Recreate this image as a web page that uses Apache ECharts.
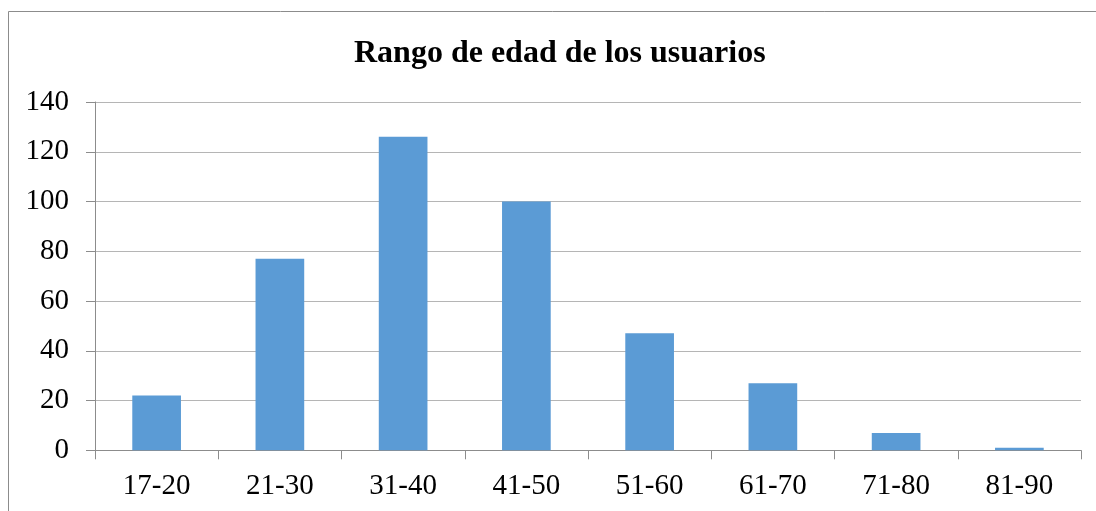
<!DOCTYPE html>
<html>
<head>
<meta charset="utf-8">
<script src="https://cdn.jsdelivr.net/npm/echarts@6/dist/echarts.min.js"></script>
<style>
html,body{margin:0;padding:0;background:#fff;}
#chart{width:1096px;height:511px;}
</style>
</head>
<body>
<div id="chart"></div>
<script>
var titleText = 'Rango de edad de los usuarios';
var categories = ['17-20', '21-30', '31-40', '41-50', '51-60', '61-70', '71-80', '81-90'];
var values = [22, 77, 126, 100, 47, 27, 7, 1];
var yTicks = [0, 20, 40, 60, 80, 100, 120, 140];

var chart = echarts.init(document.getElementById('chart'));
var serif = '"Liberation Serif", "Times New Roman", serif';
chart.setOption({
  animation: false,
  backgroundColor: '#ffffff',
  graphic: [{
    type: 'rect',
    shape: {x: 8.5, y: 11.5, width: 1200, height: 600},
    style: {fill: 'none', stroke: '#8c8c8c', lineWidth: 1},
    silent: true
  }],
  title: {
    text: titleText,
    left: 349,
    top: 33,
    textStyle: {fontFamily: serif, fontWeight: 'bold', fontSize: 32, color: '#000'}
  },
  grid: {left: 95, right: 15, top: 102, bottom: 60.7, containLabel: false},
  xAxis: {
    type: 'category',
    data: categories,
    axisLine: {show: true, lineStyle: {color: '#8c8c8c', width: 1}},
    axisTick: {show: true, length: 9, lineStyle: {color: '#8c8c8c'}},
    axisLabel: {fontFamily: serif, fontSize: 29, color: '#000', margin: 22}
  },
  yAxis: {
    type: 'value',
    min: yTicks[0],
    max: yTicks[yTicks.length - 1],
    interval: yTicks[1] - yTicks[0],
    axisLine: {show: true, lineStyle: {color: '#8c8c8c', width: 1}},
    axisTick: {show: true, length: 9, lineStyle: {color: '#8c8c8c'}},
    splitLine: {show: true, lineStyle: {color: '#b5b5b5', width: 1}},
    axisLabel: {fontFamily: serif, fontSize: 29, color: '#000', margin: 26}
  },
  series: [{
    type: 'bar',
    data: values,
    barWidth: '39.5%',
    itemStyle: {color: '#5b9bd5'}
  }]
});
</script>
</body>
</html>
